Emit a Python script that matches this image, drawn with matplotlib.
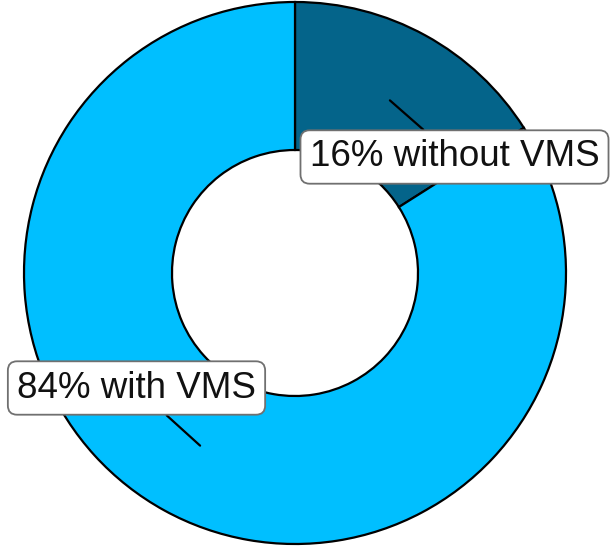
import numpy as np
import matplotlib.pyplot as plt

# Data
labels = ["16% without VMS", "84% with VMS"]
shares = [16, 84]
colors = ["#04648A", "#00BFFF"]

plt.rcParams['font.family'] = ['Liberation Sans', 'DejaVu Sans']

fig = plt.figure(figsize=(6.13, 5.46), dpi=100)
ax = fig.add_axes([0, 0, 1, 1])
ax.set_xlim(0, 613)
ax.set_ylim(0, 546)
ax.set_aspect('equal')
ax.set_axis_off()

# Donut geometry (pixel-like data units)
cx, cy = 295, 273
r_out, r_in = 271, 123

wedges, _ = ax.pie(shares, colors=colors, startangle=90, counterclock=False,
                   center=(cx, cy), radius=r_out, frame=True,
                   wedgeprops=dict(width=r_out - r_in, edgecolor="black", linewidth=1.6))
ax.set_xlim(0, 613)
ax.set_ylim(0, 546)
ax.set_axis_off()

# Label placement: anchor angle on the ring, and box centre
first_mid = (wedges[0].theta1 + wedges[0].theta2) / 2
anchor_angles = [first_mid, first_mid + 180]
label_centres = [(454.5, 389), (136.5, 158)]
r_mid = (r_out + r_in) / 2

for lab, ang, (tx, ty) in zip(labels, anchor_angles, label_centres):
    a = np.deg2rad(ang)
    px, py = cx + r_mid * np.cos(a), cy + r_mid * np.sin(a)
    ax.annotate(lab, xy=(px, py), xytext=(tx, ty), textcoords='data',
                ha='center', va='center', fontsize=26.5, color="#111111",
                bbox=dict(boxstyle="round,pad=0.25,rounding_size=0.25", fc="white",
                          ec="#707070", lw=1.3),
                arrowprops=dict(arrowstyle='-', color='black', lw=1.6,
                                shrinkA=0, shrinkB=0))

fig.savefig("out.png", dpi=100)
